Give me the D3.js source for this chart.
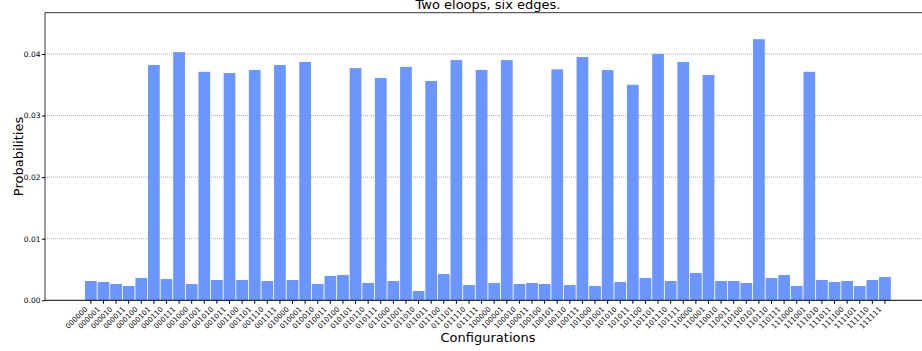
<!DOCTYPE html>
<html><head><meta charset="utf-8">
<script src="https://cdn.jsdelivr.net/npm/d3@7"></script>
<style>body{margin:0;background:#fff}svg{display:block}text{font-family:"DejaVu Sans",sans-serif}</style>
</head><body><svg id="c" width="922" height="351"></svg>
<script>
const configurations = d3.range(64).map(i => i.toString(2).padStart(6, "0"));
const probabilities = [
0.00313,0.00297,0.00265,0.00232,0.00362,0.0382,0.00346,0.0403,
0.00265,0.0371,0.0033,0.0369,0.0033,0.0374,0.00313,0.0382,
0.0033,0.0387,0.00265,0.00395,0.0041,0.0377,0.00281,0.0361,
0.00313,0.0379,0.00151,0.0356,0.00427,0.039,0.00248,0.0374,
0.00281,0.039,0.00265,0.00281,0.00265,0.0375,0.00248,0.0395,
0.00232,0.0374,0.00297,0.035,0.00362,0.04,0.00313,0.0387,
0.00443,0.0366,0.00313,0.00313,0.00281,0.0424,0.00362,0.0041,
0.00232,0.0371,0.0033,0.00297,0.00313,0.00232,0.0033,0.00378];
const yTicks = [0, 0.01, 0.02, 0.03, 0.04];
const title = "Two eloops, six edges.";

const svg = d3.select("#c");
const L = 45, R = 931, T = 12.7, B = 300.3;
const x = d3.scaleBand().domain(configurations).range([85, 890.8]).paddingInner(0.07);
const y = d3.scaleLinear().domain([0, 0.0467]).range([B, T]);

// grid
svg.append("g").selectAll("line").data(yTicks.slice(1)).join("line")
  .attr("x1", L).attr("x2", R).attr("y1", d => y(d)).attr("y2", d => y(d))
  .attr("stroke", "#999").attr("stroke-width", 0.8).attr("stroke-dasharray", "1,1");

// bars
svg.append("g").selectAll("rect").data(probabilities).join("rect")
  .attr("x", (d, i) => x(configurations[i])).attr("width", x.bandwidth())
  .attr("y", d => y(d)).attr("height", d => B - y(d))
  .attr("fill", "#6b95ff");

// y axis
const ya = svg.append("g").attr("transform", `translate(${L},0)`)
  .call(d3.axisLeft(y).tickValues(yTicks).tickFormat(d3.format(".2f")).tickSize(3).tickPadding(1.5));
ya.select(".domain").remove();
ya.selectAll("text").attr("font-size", 7.5).attr("fill", "#000").style("font-family", "DejaVu Sans");
ya.selectAll("line").attr("stroke", "#000");

// x axis
const xa = svg.append("g").attr("transform", `translate(0,${B})`)
  .call(d3.axisBottom(x).tickSize(3.5).tickPadding(2));
xa.select(".domain").remove();
xa.selectAll("line").attr("stroke", "#000");
xa.selectAll("text").attr("font-size", 7.2).attr("fill", "#000")
  .style("font-family", "DejaVu Sans")
  .attr("text-anchor", "end").attr("y", 0).attr("dy", 0)
  .attr("transform", "translate(-3,9.5) rotate(-45)");

// spines
svg.append("line").attr("x1", L).attr("x2", R).attr("y1", T).attr("y2", T).attr("stroke", "#000").attr("stroke-width", 0.8);
svg.append("line").attr("x1", L).attr("x2", L).attr("y1", T).attr("y2", B).attr("stroke", "#000").attr("stroke-width", 0.8);
svg.append("line").attr("x1", L).attr("x2", R).attr("y1", B).attr("y2", B).attr("stroke", "#000").attr("stroke-width", 1);

// labels
svg.append("text").attr("x", (L + R) / 2).attr("y", 9).attr("text-anchor", "middle")
  .attr("font-size", 13).text(title);
svg.append("text").attr("x", (L + R) / 2).attr("y", 342).attr("text-anchor", "middle")
  .attr("font-size", 13).text("Configurations");
svg.append("text").attr("transform", `translate(23,${(T + B) / 2}) rotate(-90)`)
  .attr("text-anchor", "middle").attr("font-size", 13).text("Probabilities");
</script></body></html>
